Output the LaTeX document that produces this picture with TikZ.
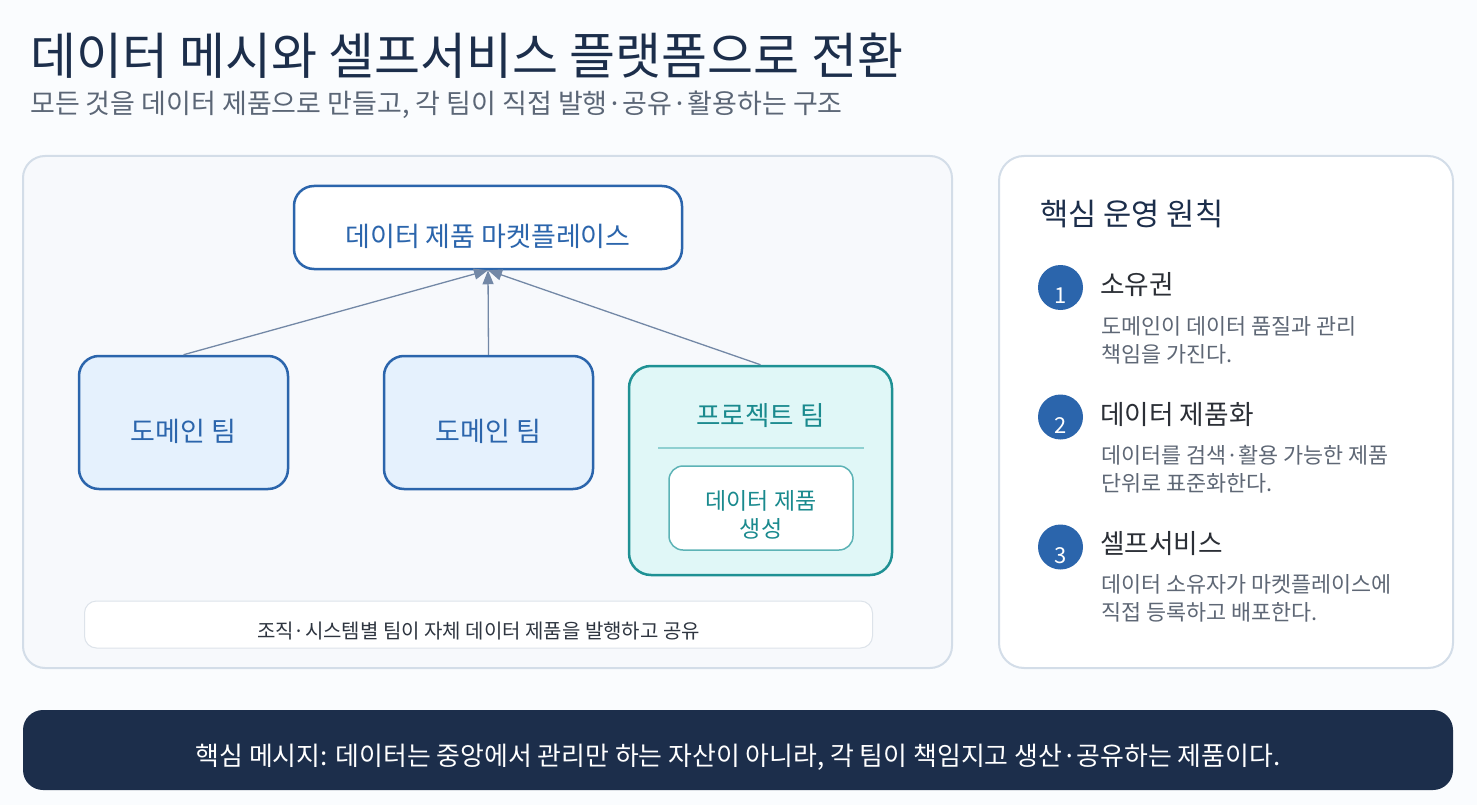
\documentclass[tikz,border=0pt]{standalone}
\usepackage{fontspec}
\setmainfont{Noto Sans CJK KR}
\usetikzlibrary{arrows.meta}

\definecolor{pagebg}{HTML}{FAFCFE}
\definecolor{panelbg}{HTML}{F7F9FC}
\definecolor{panelline}{HTML}{D3DDE8}
\definecolor{navy}{HTML}{1C2E4B}
\definecolor{subgray}{HTML}{5B6676}
\definecolor{teamblue}{HTML}{2B65AC}
\definecolor{domfill}{HTML}{E5F1FD}
\definecolor{teal}{HTML}{1F9194}
\definecolor{tealtext}{HTML}{1A8A8E}
\definecolor{tealfill}{HTML}{E0F7F7}
\definecolor{tealline}{HTML}{8FD0D1}
\definecolor{tealinner}{HTML}{5DB3B6}
\definecolor{arrowc}{HTML}{7388A6}
\definecolor{capline}{HTML}{DDE3EA}
\definecolor{captext}{HTML}{2E3540}
\definecolor{itemtext}{HTML}{2B2F36}
\definecolor{desctext}{HTML}{5E6775}

\tikzset{
	panel/.style={draw=panelline, line width=2pt, rounded corners=22pt},
	teambox/.style={draw=teamblue, line width=2.5pt, fill=domfill, rounded corners=20pt,
		minimum width=209pt, minimum height=133pt, inner sep=0pt},
	teamtext/.style={inner sep=0pt, text=teamblue, font=\fontsize{27}{30}\selectfont},
	tealtxt/.style={inner sep=0pt, text=tealtext, align=center},
	flow/.style={draw=arrowc, line width=1.3pt, -{Triangle[length=14pt,width=11pt]}},
	numdot/.style={circle, fill=teamblue, minimum size=45pt, inner sep=0pt},
	numtxt/.style={inner sep=0pt, text=white, font=\fontsize{22}{24}\selectfont},
	itemtitle/.style={anchor=west, inner sep=0pt, text=itemtext, font=\fontsize{26.7}{30}\selectfont},
	itemdesc/.style={anchor=west, inner sep=0pt, text=desctext, align=left, font=\fontsize{21.8}{28}\selectfont}
}

\begin{document}
\begin{tikzpicture}[x=1pt, y=-1pt]
			%%%%% START %%%%%
			
			\useasboundingbox[fill=pagebg] (0, 0) rectangle (1477, 805);
			
			% title
			\node[anchor=west, inner sep=0pt, text=navy, font=\fontsize{50}{54}\selectfont] (title) at (30, 56) {데이터 메시와 셀프서비스 플랫폼으로 전환};
			\node[anchor=west, inner sep=0pt, text=subgray, font=\fontsize{27}{30}\selectfont] (subtitle) at (30, 105) {모든 것을 데이터 제품으로 만들고, 각 팀이 직접 발행·공유·활용하는 구조};
			
			% left panel
			\draw[panel, fill=panelbg] (23, 156) rectangle (952, 668);
			
			\node[teambox, fill=white, minimum width=388pt, minimum height=83pt] (market) at (488, 227.5) {};
			\node[teamtext] (markettxt) at (488, 236) {데이터 제품 마켓플레이스};
			
			\node[teambox] (dom1) at (183.5, 422.5) {};
			\node[teamtext] (dom1txt) at (183.5, 431) {도메인 팀};
			\node[teambox] (dom2) at (488.5, 422.5) {};
			\node[teamtext] (dom2txt) at (488.5, 431) {도메인 팀};
			
			\node[teambox, draw=teal, fill=tealfill, rounded corners=22pt, minimum width=263pt, minimum height=209pt] (proj) at (760.5, 470.5) {};
			\node[tealtxt, font=\fontsize{26.6}{30}\selectfont] (projtxt) at (760.5, 416) {프로젝트 팀};
			\draw[tealline, line width=1.5pt] (658, 448) -- (864, 448);
			\node[draw=tealinner, line width=1.5pt, fill=white, rounded corners=14pt, minimum width=184pt, minimum height=84pt, inner sep=0pt] (make) at (761, 508) {};
			\node[tealtxt, font=\fontsize{23}{28}\selectfont] (maketxt) at (761, 515) {데이터 제품\\생성};
			
			\draw[flow] (dom1.north) -- (market.south);
			\draw[flow] (dom2.north) -- (market.south);
			\draw[flow] (proj.north) -- (market.south);
			
			\node[draw=capline, line width=1pt, fill=white, rounded corners=12pt, minimum width=788pt, minimum height=47pt, inner sep=0pt] (caption) at (478.5, 624.5) {};
			\node[inner sep=0pt, text=captext, font=\fontsize{20}{22}\selectfont] (captiontxt) at (478.5, 631) {조직·시스템별 팀이 자체 데이터 제품을 발행하고 공유};
			
			% right panel
			\draw[panel, fill=white, rounded corners=25pt] (999, 156) rectangle (1453, 668);
			\node[anchor=west, inner sep=0pt, text=navy, font=\fontsize{30.7}{34}\selectfont] (rulehead) at (1040, 214) {핵심 운영 원칙};
			
			\node[numdot] (n1) at (1060.5, 287.5) {};
			\node[numtxt] (n1txt) at (1060.5, 296) {1};
			\node[itemtitle] (t1) at (1100, 285) {소유권};
			\node[itemdesc] (d1) at (1101, 340) {도메인이 데이터 품질과 관리\\책임을 가진다.};
			
			\node[numdot] (n2) at (1060.5, 417) {};
			\node[numtxt] (n2txt) at (1060.5, 426) {2};
			\node[itemtitle] (t2) at (1100, 415) {데이터 제품화};
			\node[itemdesc] (d2) at (1101, 469) {데이터를 검색·활용 가능한 제품\\단위로 표준화한다.};
			
			\node[numdot] (n3) at (1060.5, 547) {};
			\node[numtxt] (n3txt) at (1060.5, 556) {3};
			\node[itemtitle] (t3) at (1100, 544) {셀프서비스};
			\node[itemdesc] (d3) at (1101, 598.5) {데이터 소유자가 마켓플레이스에\\직접 등록하고 배포한다.};
			
			% key message banner
			\fill[navy, rounded corners=20pt] (23, 710) rectangle (1453, 790);
			\node[inner sep=0pt, text=white, font=\fontsize{25.9}{28}\selectfont] (message) at (738, 757) {핵심 메시지: 데이터는 중앙에서 관리만 하는 자산이 아니라, 각 팀이 책임지고 생산·공유하는 제품이다.};
			
			%%%%% END %%%%%
\end{tikzpicture}
\end{document}
